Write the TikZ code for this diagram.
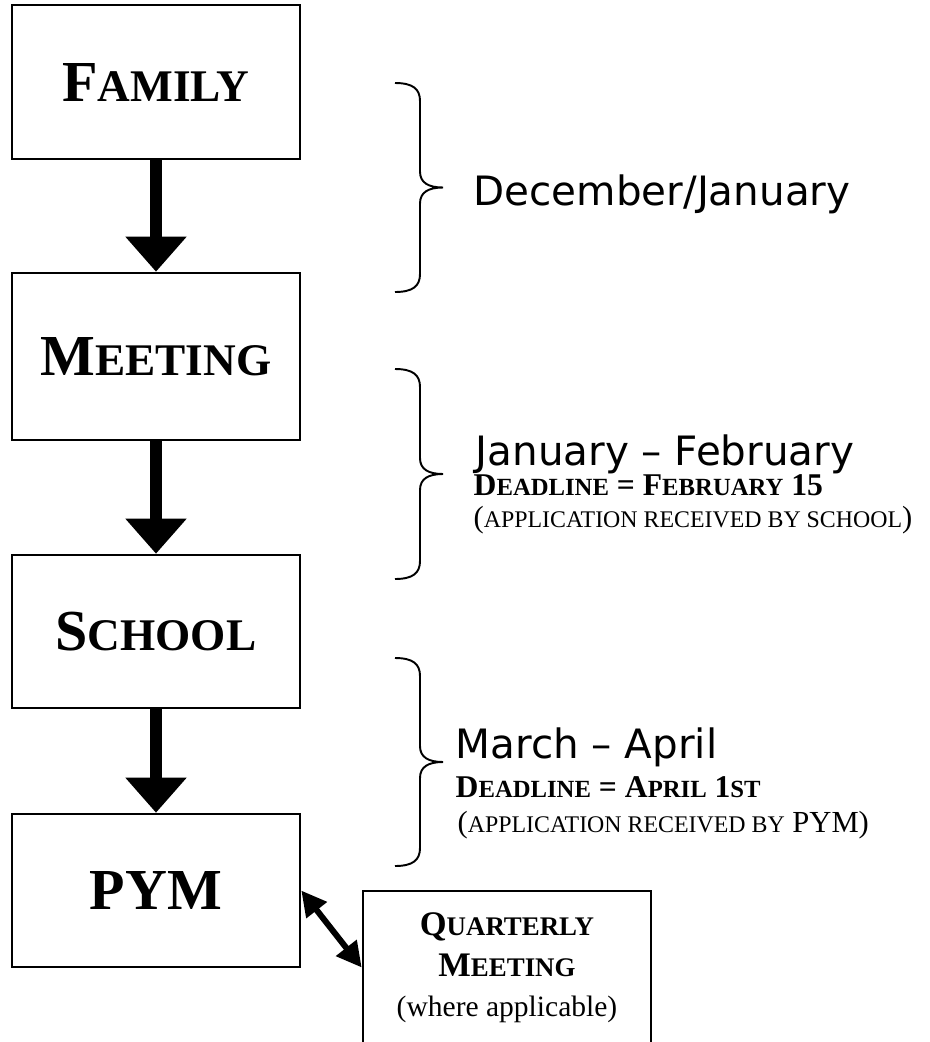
\documentclass[tikz,border=0pt]{standalone}
\usepackage{fontspec}
\setmainfont{Liberation Serif}
\newfontfamily\comicfont{DejaVu Sans}
\usepackage{graphicx}
\usepackage{tikz}
\usetikzlibrary{arrows.meta,calc}

\newcommand{\fsc}[1]{\scalebox{0.78}{#1}}

\begin{document}
\begin{tikzpicture}[x=0.01cm,y=-0.01cm]
\tikzset{
	stage box/.style = {rectangle, draw, line width = 0.7pt, minimum width = 2.88cm, inner sep = 0, font = \fontsize{16.5}{20}\selectfont\bfseries},
	down arrow/.style = {line width = 0.11cm, -{Triangle[width=0.59cm,length=0.35cm]}},
	both arrow/.style = {line width = 0.06cm, {Triangle[width=0.25cm,length=0.25cm]}-{Triangle[width=0.25cm,length=0.25cm]}},
	month text/.style = {anchor = base west, inner sep = 0, font = \comicfont\fontsize{11.5}{14}\selectfont},
	deadline text/.style = {anchor = base west, inner sep = 0, font = \fontsize{9}{11}\selectfont\bfseries},
	received text/.style = {anchor = base west, inner sep = 0, font = \fontsize{8.7}{10}\selectfont},
}

\useasboundingbox (0,0) rectangle (929,1042);

\node (family)[stage box, minimum height = 1.54cm] at (156,82) {F\fsc{AMILY}};
\node (meeting)[stage box, minimum height = 1.67cm] at (156,356.5) {M\fsc{EETING}};
\node (school)[stage box, minimum height = 1.53cm] at (156,631.5) {S\fsc{CHOOL}};
\node (pym)[stage box, minimum height = 1.53cm] at (156,890.5) {PYM};

\draw [down arrow] (family) -- (meeting);
\draw [down arrow] (meeting) -- (school);
\draw [down arrow] (school) -- (pym);

\node (quarterly)[stage box, minimum height = 1.9cm] at (507,986) {};
\node (quarterlytext)[align = center, inner sep = 0, font = \fontsize{9.8}{11.5}\selectfont] at (507,968)
	{\textbf{Q\fsc{UARTERLY}}\\ \textbf{M\fsc{EETING}}\\ {\fontsize{8.4}{11.5}\selectfont (where applicable)}};

\draw [both arrow] (pym.east) -- ([yshift = 0.185cm]quarterly.west);

% braces
\foreach \ya/\yb in {83/292, 369/579, 658/866}{
	\pgfmathsetmacro\ym{(\ya+\yb)/2}
	\draw [line width = 0.55pt] (395,\ya) .. controls (413,\ya) and (420,\ya+6) .. (420,\ya+18)
		-- (420,\ym-16) .. controls (420,\ym-5) and (428,\ym) .. (443,\ym)
		.. controls (428,\ym) and (420,\ym+5) .. (420,\ym+16)
		-- (420,\yb-18) .. controls (420,\yb-6) and (413,\yb) .. (395,\yb);
}

\node (decjan)[month text] at (473,205) {December/January};
\node (janfeb)[month text] at (475,465) {January – February};
\node (deadline1)[deadline text] at (473,495) {D\fsc{EADLINE} = F\fsc{EBRUARY} 15};
\node (received1)[received text] at (473,527) {(\fsc{APPLICATION RECEIVED BY SCHOOL})};
\node (marapr)[month text] at (455,758) {March – April};
\node (deadline2)[deadline text] at (455,797) {D\fsc{EADLINE} = A\fsc{PRIL} 1\fsc{ST}};
\node (received2)[received text] at (457,832) {(\fsc{APPLICATION RECEIVED BY} PYM)};

\end{tikzpicture}
\end{document}
